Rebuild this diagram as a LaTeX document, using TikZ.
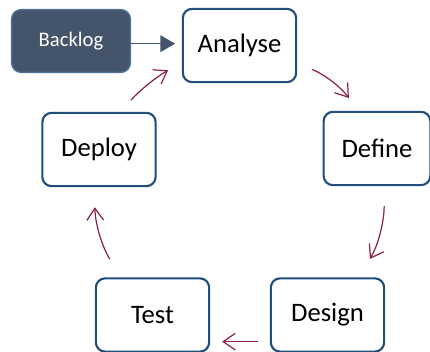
\documentclass[tikz,border=0pt]{standalone}
\usepackage{fontspec}
\setmainfont{Carlito}
\usetikzlibrary{positioning,arrows.meta}
\definecolor{boxline}{RGB}{33,78,122}
\definecolor{slate}{RGB}{68,84,106}
\definecolor{loopred}{RGB}{140,30,72}

\begin{document}
\begin{tikzpicture}[x=0.75pt, y=-0.75pt,
  stage/.style={draw=boxline, line width=1.6pt, fill=white, rounded corners=7pt,
    minimum width=85pt, minimum height=55pt, font=\fontsize{20}{24}\selectfont},
  flow/.style={-{Straight Barb[length=9pt,width=12.5pt]}, loopred, line width=0.9pt}]
\useasboundingbox (0,0) rectangle (430,352);
% Stages of the cycle
\node[stage] (analyse) at (239.5,45.5) {Analyse};
\node[stage, minimum width=80pt] (define) at (377,148.5) {Define};
\node[stage] (design) at (327.5,315) {Design};
\node[stage] (test) at (152.5,315) {Test};
\node[stage] (deploy) at (99,149.5) {Deploy};
% Entry point
\node[draw=boxline!80, fill=slate, line width=1.1pt, rounded corners=7pt, text=white,
  minimum width=89pt, minimum height=47pt, font=\fontsize{15.5}{18}\selectfont] (backlog) at (71,41) {Backlog};
% Connections
\draw[-{Triangle[length=11pt,width=12.5pt]}, slate, line width=1.1pt, shorten >=5pt]
  ([yshift=-2pt]backlog.east) -- ([yshift=-2pt]backlog.east -| analyse.west);
\draw[flow, shorten <=12pt, shorten >=12pt] (analyse.-17) to[bend left=15] (define.116);
\draw[flow, shorten <=15pt, shorten >=16pt] (define.-79) to[bend left=15] (design.50);
\draw[flow, shorten <=9pt, shorten >=9pt] ([yshift=-20pt]design.west) -- ([yshift=-20pt]test.east);
\draw[flow, shorten <=16pt, shorten >=15pt] (test.130) to[bend left=15] (deploy.-97);
\draw[flow, shorten <=12pt, shorten >=12pt] (deploy.61) to[bend left=8] (analyse.196);
\end{tikzpicture}
\end{document}
